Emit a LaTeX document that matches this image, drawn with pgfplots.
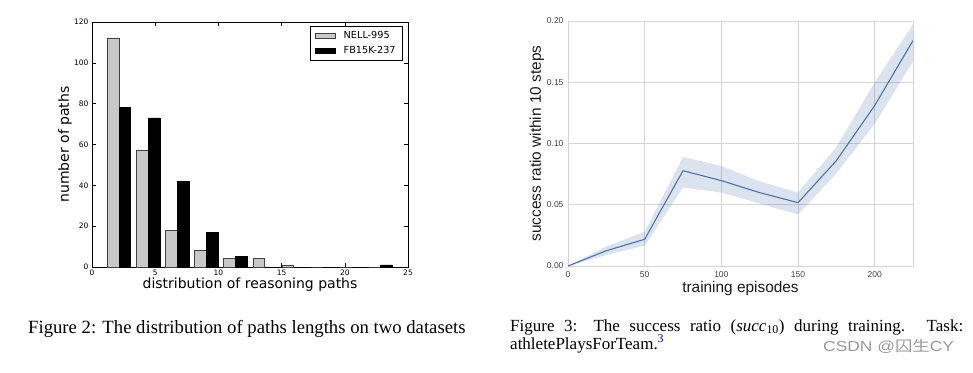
\documentclass[border=0pt]{standalone}
\usepackage{pgfplots}
\pgfplotsset{compat=1.18}
\usepackage{fontspec}
\usepackage{xcolor}
\usepackage{graphicx}
\setmainfont{Liberation Serif}
\newfontfamily\dejavu{DejaVu Sans}
\newfontfamily\arial{Liberation Sans}
\newfontfamily\cjk{Noto Sans CJK SC}
\definecolor{sbblue}{HTML}{4C72B0}
\definecolor{barg}{HTML}{C8C8C8}
\definecolor{gridg}{HTML}{D5D5D5}
\begin{document}
\begin{tikzpicture}
\path (0pt,0pt) rectangle (973pt,-372pt);
% ---------- left chart ----------
\begin{axis}[
  at={(92pt,-267pt)}, anchor=south west,
  scale only axis, width=316pt, height=245pt,
  xmin=0, xmax=25, ymin=0, ymax=120,
  xtick={0,5,...,25}, ytick={0,20,...,120},
  tick align=inside, xtick pos=both, ytick pos=both,
  major tick length=4pt,
  axis line style={black, line width=0.8pt},
  tick style={black, line width=0.5pt},
  /pgf/number format/assume math mode=true,
  ticklabel style={font=\dejavu\fontsize{7.5}{8}\selectfont},
  xticklabel style={yshift=1pt},
  xlabel={distribution of reasoning paths},
  ylabel={number of paths},
  every axis x label/.style={at={(axis description cs:0.5,-0.0857)}, anchor=base, font=\dejavu\fontsize{14}{16}\selectfont},
  every axis y label/.style={at={(axis description cs:-0.0854,0.5)}, anchor=center, rotate=90, font=\dejavu\fontsize{14}{16}\selectfont},
  legend style={at={(0.984,0.984)}, anchor=north east, draw=black, line width=0.6pt,
    font=\dejavu\fontsize{9.7}{11}\selectfont, row sep=2.5pt, inner xsep=5pt, inner ysep=3pt},
  legend cell align=left,
  legend image code/.code={\draw[#1, line width=0.5pt] (0pt,-2.5pt) rectangle (20pt,2.5pt); \path (26pt,0pt);},
]
\addplot[ybar, bar width=0.92, bar shift=-0.46, fill=barg, draw=black!75, line width=0.7pt]
 coordinates {(2.15,112) (4.45,57) (6.75,18) (9.05,8) (11.35,4) (13.65,4) (15.95,1) (18.25,0) (20.55,0) (22.85,0)};
\addlegendentry{NELL-995}
\addplot[ybar, bar width=0.92, bar shift=0.46, fill=black, draw=black, line width=0.7pt]
 coordinates {(2.15,78) (4.45,73) (6.75,42) (9.05,17) (11.35,5) (13.65,0) (15.95,0) (18.25,0) (20.55,0) (22.85,1)};
\addlegendentry{FB15K-237}
\end{axis}
% ---------- right chart ----------
\begin{axis}[
  at={(568pt,-266pt)}, anchor=south west,
  scale only axis, width=345pt, height=245pt,
  xmin=0, xmax=225, ymin=0, ymax=0.2,
  xtick={0,50,...,200}, ytick={0,0.05,...,0.2},
  grid=major, major grid style={gridg, line width=0.8pt},
  axis line style={gridg, line width=0.8pt},
  major tick length=0pt,
  /pgf/number format/assume math mode=true,
  yticklabel style={/pgf/number format/fixed, /pgf/number format/fixed zerofill, /pgf/number format/precision=2, xshift=-1pt},
  scaled y ticks=false,
  ticklabel style={font=\arial\fontsize{8.5}{9}\selectfont, text=black!75},
  xticklabel style={yshift=-2pt},
  xlabel={training episodes},
  ylabel={success ratio within 10 steps},
  every axis x label/.style={at={(axis description cs:0.5,-0.110)}, anchor=base, font=\arial\fontsize{15.4}{17}\selectfont, text=black!90},
  every axis y label/.style={at={(axis description cs:-0.0899,0.5)}, anchor=center, rotate=90, font=\arial\fontsize{15.4}{17}\selectfont, text=black!90},
]
\addplot[fill=sbblue, fill opacity=0.2, draw=none] coordinates {
 (0,0) (25,0.016) (50,0.028) (75,0.089) (100,0.0816) (125,0.069) (150,0.060) (175,0.097) (200,0.150) (225,0.197)
 (225,0.167) (200,0.116) (175,0.0756) (150,0.042) (125,0.051) (100,0.060) (75,0.064) (50,0.0166) (25,0.009) (0,0)} -- cycle;
\addplot[sbblue, line width=1.1pt] coordinates {
 (0,0) (25,0.0125) (50,0.0218) (75,0.0778) (100,0.0697) (125,0.0599) (150,0.0517) (175,0.086) (200,0.131) (225,0.184)};
\end{axis}
% ---------- captions ----------
\node[anchor=base west, inner sep=0pt, font=\fontsize{18.7}{21}\selectfont] at (28pt,-333pt)
 {Figure 2: The distribution of paths lengths on two datasets};
\node[anchor=base west, inner sep=0pt, font=\fontsize{17}{20}\selectfont] at (510pt,-331pt)
 {\makebox[453pt][s]{Figure 3: The success ratio (\textit{succ}\textsubscript{10}) during training. Task:}};
\node[anchor=base west, inner sep=0pt, font=\fontsize{17}{20}\selectfont] at (510pt,-349pt)
 {athletePlaysForTeam.\textsuperscript{\color{blue!70!black}3}};
\node[anchor=base west, inner sep=0pt, font=\arial\fontsize{14.5}{16}\selectfont, text=black!40] at (823pt,-351pt)
 {\scalebox{1.2}[1]{CSDN @{\cjk 囚生}CY}};
\end{tikzpicture}
\end{document}
